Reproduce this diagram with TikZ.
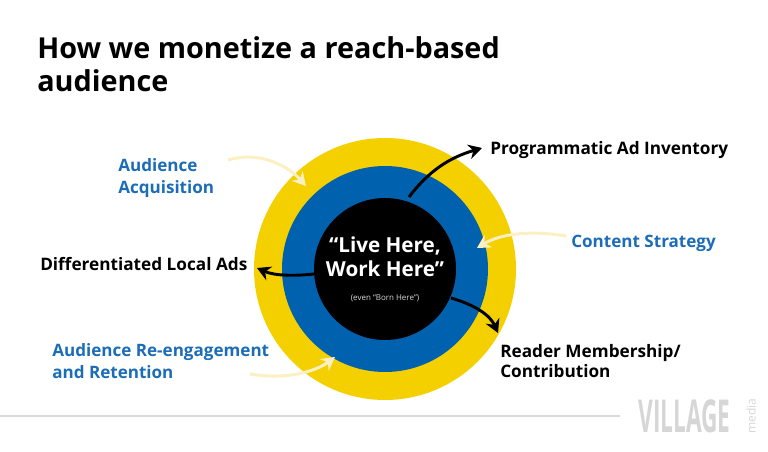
\documentclass[tikz,border=0pt]{standalone}
\usepackage{fontspec}
\setmainfont{Open Sans}
\usetikzlibrary{arrows.meta}
\definecolor{ylw}{HTML}{F5D000}
\definecolor{blu}{HTML}{0061AE}
\definecolor{lbl}{HTML}{1B6DB8}
\definecolor{cream}{HTML}{FCEFC2}
\tikzset{
  lab/.style={anchor=west,align=left,font=\fontsize{12.9}{15.5}\selectfont\bfseries,inner sep=0},
  bluelab/.style={lab,text=lbl,font=\fontsize{12.8}{16}\selectfont\bfseries},
  blk/.style={line width=2.2pt,-{Stealth[length=10pt,width=11pt]}},
  crm/.style={line width=2.2pt,cream,-{Stealth[length=10pt,width=11pt]}}
}
\begin{document}
\begin{tikzpicture}[x=0.75pt,y=-0.75pt]
\useasboundingbox (0,0) rectangle (768,452);
\fill[white] (0,0) rectangle (768,452);
\node[anchor=north west,align=left,inner sep=0,font=\fontsize{21.6}{25}\selectfont\bfseries] (title) at (37,36) {How we monetize a reach-based\\audience};
\node[circle,fill=ylw,minimum size=262*0.75pt,inner sep=0] (outer) at (385,269) {};
\node[circle,fill=blu,minimum size=206*0.75pt,inner sep=0] (mid) at (385,269) {};
\node[circle,fill=black,minimum size=142*0.75pt,inner sep=0] (core) at (385,269) {};
\node[text=white,align=center,font=\fontsize{15.5}{18}\selectfont\bfseries,inner sep=0] (slogan) at (385,257) {“Live Here,\\Work Here”};
\node[text=white!85!black,font=\fontsize{6}{7}\selectfont,inner sep=0] (born) at (385,298) {(even “Born Here”)};
\node[bluelab] (acq) at (118,178) {Audience\\Acquisition};
\node[lab] (prog) at (490,150) {Programmatic Ad Inventory};
\node[bluelab] (cs) at (571,243) {Content Strategy};
\node[lab] (dla) at (40,264) {Differentiated Local Ads};
\node[bluelab] (reeng) at (52,361) {Audience Re-engagement\\and Retention};
\node[lab] (rm) at (500,361) {Reader Membership/\\Contribution};
\coordinate (c1) at (228,160); \coordinate (c1e) at (306,186);
\coordinate (c2) at (566,236); \coordinate (c2e) at (477,248);
\coordinate (c3) at (250,374); \coordinate (c3e) at (335,357);
\draw[crm] (c1) .. controls (262,150) and (290,168) .. (c1e);
\draw[crm] (c2) .. controls (530,230) and (500,234) .. (c2e);
\draw[crm] (c3) .. controls (285,380) and (315,372) .. (c3e);
\coordinate (a1) at (409,197); \coordinate (a1e) at (482,148);
\coordinate (a2) at (314,274); \coordinate (a2e) at (257,268);
\coordinate (a3) at (451,298); \coordinate (a3e) at (498,333);
\draw[blk] (a1) .. controls (428,172) and (448,158) .. (a1e);
\draw[blk] (a2) .. controls (295,276) and (275,276) .. (a2e);
\draw[blk] (a3) .. controls (475,305) and (490,315) .. (a3e);
\draw[black!15,line width=1pt] (0,416) -- (620,416);
\node[anchor=west,inner sep=0,text=black!16,font=\fontsize{34}{34}\selectfont\bfseries\addfontfeature{FakeStretch=0.5}] (logo) at (638,416) {VILLAGE};
\node[rotate=90,inner sep=0,text=black!16,font=\fontsize{9}{9}\selectfont] (media) at (751,416) {media};
\end{tikzpicture}
\end{document}
